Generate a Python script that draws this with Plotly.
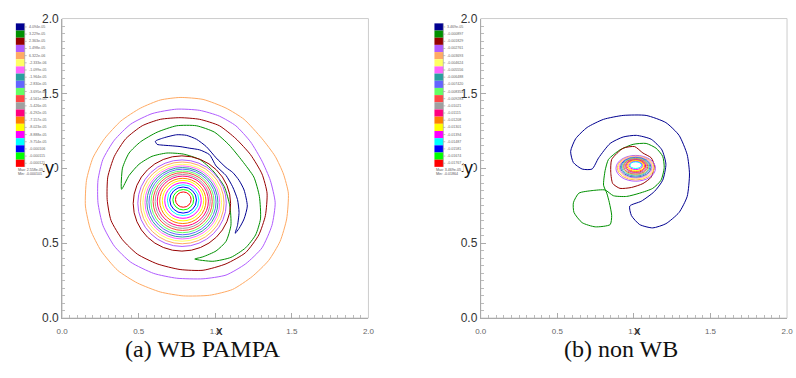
import plotly.graph_objects as go

W, H = 796, 378

# ---------------- data ----------------
LEVEL_COLORS = ["#000090", "#009000", "#960000", "#b05cff", "#ffaa64", "#ffff64",
                "#ff64ff", "#28a0a0", "#6464ff", "#64ff64", "#ff4646", "#a0a0a0",
                "#ff0080", "#ff8000", "#ffff00", "#ff00ff", "#00ffff", "#0000ff",
                "#00ff00", "#ff0000"]

LEFT_LEVEL_LABELS = ["4.094e-05", "3.229e-05", "2.363e-05", "1.498e-05", "6.322e-06",
                     "-2.333e-06", "-1.099e-05", "-1.964e-05", "-2.830e-05", "-3.695e-05",
                     "-4.561e-05", "-5.426e-05", "-6.292e-05", "-7.157e-05", "-8.023e-05",
                     "-8.888e-05", "-9.754e-05", "-0.000106", "-0.000115", "-0.000123"]
RIGHT_LEVEL_LABELS = ["3.469e-05", "-0.000897", "-0.001829", "-0.002761", "-0.003693",
                      "-0.004624", "-0.005556", "-0.006488", "-0.007420", "-0.008351",
                      "-0.009283", "-0.01021", "-0.01115", "-0.01208", "-0.01301",
                      "-0.01394", "-0.01487", "-0.01581", "-0.01674", "-0.01767"]
LEFT_MAX_MIN = ["Max: 2.558e-05", "Min: -0.000101"]
RIGHT_MAX_MIN = ["Max: 3.469e-05", "Min: -0.01864"]

TICK_VALUES = [0.0, 0.5, 1.0, 1.5, 2.0]
TICK_LABELS = ["0.0", "0.5", "1.0", "1.5", "2.0"]
CAPTIONS = ["(a) WB PAMPA", "(b) non WB"]

# ---- left panel: irregular contours (level index, x, y) ----
L_ORANGE_X = [0.770, 0.920, 1.070, 1.188, 1.305, 1.391, 1.445, 1.477, 1.466, 1.423, 1.348, 1.241,
              1.113, 0.962, 0.791, 0.641, 0.491, 0.362, 0.255, 0.186, 0.152, 0.159, 0.201, 0.277,
              0.384, 0.512, 0.641, 0.770]
L_ORANGE_Y = [1.473, 1.460, 1.402, 1.327, 1.198, 1.080, 0.962, 0.834, 0.662, 0.512, 0.384, 0.277,
              0.191, 0.152, 0.148, 0.174, 0.234, 0.319, 0.448, 0.587, 0.748, 0.920, 1.070, 1.198,
              1.316, 1.402, 1.456, 1.473]
L_PURPLE_X = [0.748, 0.898, 1.027, 1.134, 1.230, 1.305, 1.359, 1.391, 1.370, 1.305, 1.198, 1.070,
              0.920, 0.748, 0.598, 0.448, 0.341, 0.266, 0.234, 0.234, 0.266, 0.341, 0.448, 0.587,
              0.748]
L_PURPLE_Y = [1.395, 1.387, 1.348, 1.284, 1.177, 1.048, 0.920, 0.770, 0.619, 0.469, 0.362, 0.287,
              0.262, 0.266, 0.298, 0.373, 0.480, 0.619, 0.770, 0.920, 1.059, 1.188, 1.295, 1.365,
              1.395]
L_DARKRED_X = [0.770, 0.898, 1.027, 1.134, 1.230, 1.305, 1.338, 1.327, 1.284, 1.198, 1.070, 0.920,
               0.770, 0.620, 0.491, 0.394, 0.319, 0.294, 0.298, 0.341, 0.416, 0.523, 0.641, 0.770]
L_DARKRED_Y = [1.338, 1.327, 1.284, 1.198, 1.091, 0.962, 0.834, 0.684, 0.555, 0.437, 0.362, 0.319,
               0.324, 0.362, 0.427, 0.523, 0.652, 0.791, 0.941, 1.080, 1.198, 1.284, 1.327, 1.338]
L_GREEN_X = [0.388, 0.394, 0.437, 0.512, 0.620, 0.748, 0.877, 0.995, 1.091, 1.177, 1.252, 1.288,
             1.295, 1.263, 1.198, 1.102, 0.984, 0.866, 0.920, 1.005, 1.070, 1.102, 1.095, 1.059,
             0.984, 0.898, 0.791, 0.684, 0.587, 0.502, 0.437, 0.388]
L_GREEN_Y = [0.860, 1.001, 1.102, 1.177, 1.241, 1.284, 1.284, 1.241, 1.155, 1.048, 0.941, 0.812,
             0.662, 0.555, 0.469, 0.405, 0.379, 0.394, 0.409, 0.448, 0.512, 0.619, 0.748, 0.877,
             0.984, 1.059, 1.095, 1.102, 1.080, 1.027, 0.952, 0.860]
L_NAVY_X = [0.609, 0.662, 0.748, 0.812, 0.877, 0.941, 1.005, 1.070, 1.113, 1.155, 1.188, 1.209,
            1.188, 1.155, 1.130, 1.145, 1.155, 1.145, 1.113, 1.070, 1.005, 0.962, 0.898, 0.834,
            0.770, 0.705, 0.652, 0.620, 0.609]
L_NAVY_Y = [1.181, 1.203, 1.224, 1.220, 1.194, 1.145, 1.070, 1.005, 0.973, 0.920, 0.855, 0.748,
            0.662, 0.598, 0.566, 0.619, 0.705, 0.791, 0.877, 0.952, 1.016, 1.091, 1.123, 1.134,
            1.145, 1.151, 1.155, 1.160, 1.181]

# ---- left panel: concentric rings around the vortex core ----
L_RING_LEVELS = [19, 18, 17, 16, 15, 14, 13, 12, 11, 10, 9, 8, 7, 6, 5, 4, 3, 2]
L_RING_RADII = [0.051, 0.068, 0.087, 0.103, 0.119, 0.135, 0.151, 0.167, 0.180, 0.193,
                0.206, 0.219, 0.232, 0.244, 0.257, 0.273, 0.289, 0.318]
L_RING_CX = [0.791, 0.791, 0.790, 0.790, 0.789, 0.789, 0.788, 0.788, 0.787, 0.787,
             0.786, 0.786, 0.785, 0.785, 0.784, 0.784, 0.783, 0.782]
L_RING_CY = [0.791, 0.790, 0.788, 0.787, 0.785, 0.784, 0.782, 0.781, 0.779, 0.778,
             0.776, 0.775, 0.773, 0.772, 0.770, 0.769, 0.767, 0.765]

# ---- right panel: irregular contours ----
R_NAVY_X = [0.727, 0.770, 0.845, 0.930, 1.016, 1.113, 1.183, 1.209, 1.188, 1.134, 1.048, 0.973,
            0.984, 1.038, 1.123, 1.209, 1.295, 1.348, 1.363, 1.348, 1.295, 1.209, 1.080, 0.930,
            0.802, 0.695, 0.620, 0.587, 0.605, 0.662, 0.727]
R_NAVY_Y = [0.995, 1.070, 1.166, 1.209, 1.220, 1.194, 1.123, 1.027, 0.920, 0.845, 0.780, 0.748,
            0.684, 0.624, 0.602, 0.630, 0.705, 0.812, 0.962, 1.091, 1.220, 1.305, 1.353, 1.353,
            1.327, 1.273, 1.198, 1.113, 1.038, 0.995, 0.995]
R_GREEN_X = [0.802, 0.812, 0.834, 0.909, 0.995, 1.080, 1.145, 1.188, 1.198, 1.177, 1.123, 1.038,
             0.952, 0.866, 0.812, 0.727, 0.641, 0.605, 0.609, 0.662, 0.748, 0.845, 0.855, 0.840,
             0.823, 0.802]
R_GREEN_Y = [0.887, 0.984, 1.059, 1.123, 1.160, 1.166, 1.134, 1.080, 1.005, 0.920, 0.866, 0.834,
             0.812, 0.817, 0.855, 0.851, 0.834, 0.770, 0.705, 0.637, 0.609, 0.624, 0.684, 0.770,
             0.834, 0.887]
R_DARKRED_X = [0.855, 0.930, 1.005, 1.059, 1.113, 1.134, 1.113, 1.059, 0.984, 0.909, 0.862,
               0.849, 0.855]
R_DARKRED_Y = [1.059, 1.134, 1.145, 1.102, 1.070, 1.016, 0.941, 0.898, 0.872, 0.866, 0.898,
               0.973, 1.059]

# ---- right panel: nested core contours (ellipse half-widths) ----
R_CORE_LEVELS = [3, 4, 5, 6, 7, 8, 9, 10, 11, 12, 13, 14, 15, 16]
R_CORE_RX = [0.129, 0.121, 0.114, 0.107, 0.100, 0.093, 0.086, 0.079, 0.072, 0.065,
             0.058, 0.051, 0.044, 0.038]
R_CORE_RY = [0.086, 0.080, 0.075, 0.071, 0.066, 0.061, 0.056, 0.051, 0.046, 0.042,
             0.037, 0.032, 0.027, 0.022]
R_CORE_CX = [1.012, 1.012, 1.012, 1.012, 1.012, 1.012, 1.012, 1.012, 1.012, 1.012,
             1.012, 1.012, 1.012, 1.012]
R_CORE_CY = [1.000, 1.002, 1.004, 1.006, 1.007, 1.009, 1.010, 1.012, 1.013, 1.015,
             1.016, 1.018, 1.019, 1.021]

LEFT_LINES = [(4, L_ORANGE_X, L_ORANGE_Y), (3, L_PURPLE_X, L_PURPLE_Y),
              (2, L_DARKRED_X, L_DARKRED_Y), (1, L_GREEN_X, L_GREEN_Y),
              (0, L_NAVY_X, L_NAVY_Y)]
RIGHT_LINES = [(0, R_NAVY_X, R_NAVY_Y), (1, R_GREEN_X, R_GREEN_Y),
               (2, R_DARKRED_X, R_DARKRED_Y)]

# ---------------- figure ----------------
def pxx(px):
    return px / W


def pxy(py):
    return 1 - py / H


fig = go.Figure()

for lvl, xs, ys in LEFT_LINES:
    fig.add_trace(go.Scatter(x=xs, y=ys, mode="lines", xaxis="x", yaxis="y",
                             line=dict(color=LEVEL_COLORS[lvl], width=1, shape="spline",
                                       smoothing=0.6),
                             showlegend=False, hoverinfo="skip"))
for lvl, xs, ys in RIGHT_LINES:
    fig.add_trace(go.Scatter(x=xs, y=ys, mode="lines", xaxis="x2", yaxis="y2",
                             line=dict(color=LEVEL_COLORS[lvl], width=1, shape="spline",
                                       smoothing=0.6),
                             showlegend=False, hoverinfo="skip"))

shapes = []
# plot frame (light top/right borders)
for xr, yr in (("x domain", "y domain"), ("x2 domain", "y2 domain")):
    shapes.append(dict(type="rect", xref=xr, yref=yr, x0=0, x1=1, y0=0, y1=1,
                       line=dict(color="#cccccc", width=1), layer="below"))

for lvl, r, cx, cy in zip(L_RING_LEVELS, L_RING_RADII, L_RING_CX, L_RING_CY):
    shapes.append(dict(type="circle", xref="x", yref="y", x0=cx - r, x1=cx + r,
                       y0=cy - r, y1=cy + r, line=dict(color=LEVEL_COLORS[lvl], width=1)))
for lvl, rx, ry, cx, cy in zip(R_CORE_LEVELS, R_CORE_RX, R_CORE_RY, R_CORE_CX, R_CORE_CY):
    shapes.append(dict(type="circle", xref="x2", yref="y2", x0=cx - rx, x1=cx + rx,
                       y0=cy - ry, y1=cy + ry, line=dict(color=LEVEL_COLORS[lvl], width=1)))

annotations = []
# colour-table legends
for bx, labels, maxmin in ((10, LEFT_LEVEL_LABELS, LEFT_MAX_MIN),
                           (435, RIGHT_LEVEL_LABELS, RIGHT_MAX_MIN)):
    top, step = 17.0, 7.45
    for i, (c, lab) in enumerate(zip(LEVEL_COLORS, labels)):
        y0 = top + i * step
        shapes.append(dict(type="rect", xref="paper", yref="paper",
                           x0=pxx(bx), x1=pxx(bx + 9), y0=pxy(y0 + step), y1=pxy(y0),
                           fillcolor=c, line=dict(width=0)))
        shapes.append(dict(type="line", xref="paper", yref="paper",
                           x0=pxx(bx + 9), x1=pxx(bx + 11), y0=pxy(y0 + step / 2),
                           y1=pxy(y0 + step / 2), line=dict(color="#999999", width=0.6)))
        annotations.append(dict(xref="paper", yref="paper", x=pxx(bx + 11), y=pxy(y0 + step / 2),
                                text=lab, showarrow=False, xanchor="left", yanchor="middle",
                                font=dict(family="Liberation Sans", size=3.6, color="#666666")))
    shapes.append(dict(type="line", xref="paper", yref="paper", x0=pxx(bx + 9), x1=pxx(bx + 9),
                       y0=pxy(top), y1=pxy(top + 20 * step), line=dict(color="#999999", width=0.6)))
    for j, t in enumerate(maxmin):
        annotations.append(dict(xref="paper", yref="paper", x=pxx(bx), y=pxy(top + 20 * step + 3.5 + 4 * j),
                                text=t, showarrow=False, xanchor="left", yanchor="middle",
                                font=dict(family="Liberation Sans", size=3.6, color="#555555")))

# axis titles placed over the 1.0 tick labels, as in the original
for xp in (44.5, 469.5):
    annotations.append(dict(xref="paper", yref="paper", x=pxx(xp), y=pxy(167), text="y",
                            showarrow=False, xanchor="center", yanchor="middle",
                            bgcolor="white", borderpad=0,
                            font=dict(family="Liberation Sans", size=18, color="#111111")))
for xp in (217, 641):
    annotations.append(dict(xref="paper", yref="paper", x=pxx(xp), y=pxy(336), text="x",
                            showarrow=False, xanchor="center", yanchor="middle",
                            font=dict(family="Liberation Sans", size=13, color="#111111")))
for xp, cap in zip((200, 624), CAPTIONS):
    annotations.append(dict(xref="paper", yref="paper", x=pxx(xp), y=pxy(355), text=cap,
                            showarrow=False, xanchor="center", yanchor="middle",
                            font=dict(family="Liberation Serif", size=24, color="#111111")))

xaxis_common = dict(range=[0, 2], tickvals=TICK_VALUES, ticktext=TICK_LABELS,
                    showgrid=False, zeroline=False, showline=True, linecolor="#aaaaaa",
                    linewidth=1, ticks="inside", ticklen=5, tickcolor="#aaaaaa",
                    minor=dict(dtick=0.05, ticks="inside", ticklen=3, tickcolor="#bbbbbb"),
                    tickfont=dict(family="Liberation Sans", size=8, color="#666666"),
                    ticklabelstandoff=5, fixedrange=True)
yaxis_common = dict(range=[0, 2], tickvals=TICK_VALUES, ticktext=TICK_LABELS,
                    showgrid=False, zeroline=False, showline=True, linecolor="#aaaaaa",
                    linewidth=1, ticks="inside", ticklen=5, tickcolor="#aaaaaa",
                    minor=dict(dtick=0.05, ticks="inside", ticklen=3, tickcolor="#bbbbbb"),
                    tickfont=dict(family="Liberation Sans", size=12, color="#333333"),
                    fixedrange=True)

y_dom = [pxy(323), pxy(12)]
fig.update_layout(
    width=W, height=H, margin=dict(l=0, r=0, t=0, b=0),
    paper_bgcolor="white", plot_bgcolor="white",
    xaxis=dict(domain=[pxx(57), pxx(368)], anchor="y", **xaxis_common),
    yaxis=dict(domain=y_dom, anchor="x", **yaxis_common),
    xaxis2=dict(domain=[pxx(482), pxx(793)], anchor="y2", **xaxis_common),
    yaxis2=dict(domain=y_dom, anchor="x2", **yaxis_common),
    shapes=shapes, annotations=annotations, showlegend=False,
)

fig.write_html("out.html")
